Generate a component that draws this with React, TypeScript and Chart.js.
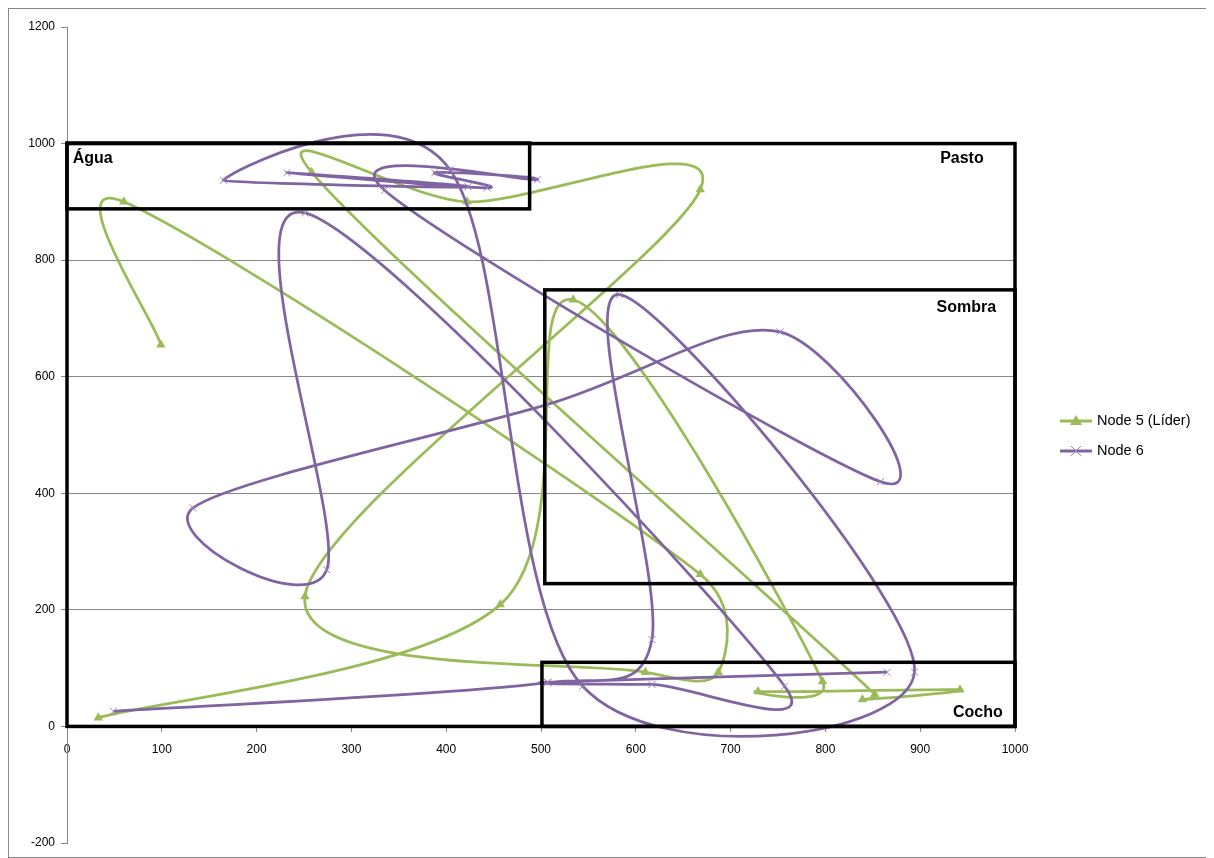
import React, { useEffect, useRef } from 'react';
import { Chart, registerables } from 'chart.js';

Chart.register(...registerables);

// ---- Data ----
const node5X = [99, 60, 668, 687, 610, 251, 668, 422, 258, 852, 839, 942, 729, 797, 534, 457, 33];
const node5Y = [655, 900, 261, 93, 93, 223, 921, 900, 951, 55, 46, 63, 60, 77, 732, 209, 15];

const node6X = [49, 507, 617, 583, 894, 544, 404, 165, 423, 232, 443, 388, 496, 335, 858, 752, 506, 133, 274, 251, 757, 617, 507, 865];
const node6Y = [26, 75, 149, 741, 93, 69, 955, 937, 926, 950, 924, 950, 938, 920, 420, 677, 552, 375, 269, 881, 69, 72, 76, 93];

const seriesNames = ['Node 5 (Líder)', 'Node 6'];
const seriesColors = ['#9BBB59', '#8064A2'];

const xMin = 0;
const xMax = 1000;
const xStep = 100;
const yMin = -200;
const yMax = 1200;
const yStep = 200;

// zones (rectangles drawn on the plot)
const zoneNames = ['Água', 'Pasto', 'Sombra', 'Cocho'];
const zoneX0 = [0, 0, 504, 501];
const zoneX1 = [488, 1000, 1000, 1000];
const zoneY0 = [888, 0, 245, 0];
const zoneY1 = [1001, 1000, 749, 110];
const zoneLabelX = [6, 967, 980, 987];
const zoneLabelY = [975, 975, 718, 24];
const zoneLabelAlign = ['left', 'right', 'right', 'right'];

// Excel-like smoothing: Catmull-Rom control points (1/6 of neighbour difference),
// each arm capped at half of its own segment length
const excelSmooth = {
  id: 'excelSmooth',
  beforeDatasetDraw(chart: any, args: any) {
    const line = args.meta.dataset;
    if (!line) return;
    line.updateControlPoints(chart.chartArea, args.meta.indexAxis);
    const pts = line.points || [];
    const n = pts.length;
    for (let i = 0; i < n; i++) {
      const p = pts[i];
      const prev = pts[Math.max(0, i - 1)];
      const next = pts[Math.min(n - 1, i + 1)];
      const dx = next.x - prev.x;
      const dy = next.y - prev.y;
      const d = Math.hypot(dx, dy);
      if (d === 0) {
        p.cp1x = p.x; p.cp1y = p.y; p.cp2x = p.x; p.cp2y = p.y;
        continue;
      }
      const ux = dx / d;
      const uy = dy / d;
      const dIn = Math.hypot(p.x - prev.x, p.y - prev.y);
      const dOut = Math.hypot(next.x - p.x, next.y - p.y);
      const armIn = Math.min(d / 6, dIn / 2);
      const armOut = Math.min(d / 6, dOut / 2);
      p.cp1x = p.x - ux * armIn;
      p.cp1y = p.y - uy * armIn;
      p.cp2x = p.x + ux * armOut;
      p.cp2y = p.y + uy * armOut;
    }
    line._path = undefined;
  },
};

const zonesPlugin = {
  id: 'zones',
  afterDatasetsDraw(chart: any) {
    const { ctx, scales } = chart;
    const xs = scales.x;
    const ys = scales.y;
    ctx.save();
    ctx.strokeStyle = '#000000';
    ctx.lineWidth = 3.5;
    for (let i = 0; i < zoneNames.length; i++) {
      const l = xs.getPixelForValue(zoneX0[i]);
      const r = xs.getPixelForValue(zoneX1[i]);
      const t = ys.getPixelForValue(zoneY1[i]);
      const b = ys.getPixelForValue(zoneY0[i]);
      ctx.strokeRect(l, t, r - l, b - t);
    }
    ctx.fillStyle = '#000000';
    ctx.font = 'bold 16px "Liberation Sans", Arial, sans-serif';
    ctx.textBaseline = 'middle';
    for (let i = 0; i < zoneNames.length; i++) {
      ctx.textAlign = zoneLabelAlign[i] as CanvasTextAlign;
      ctx.fillText(zoneNames[i], xs.getPixelForValue(zoneLabelX[i]), ys.getPixelForValue(zoneLabelY[i]));
    }
    ctx.restore();
  },
};

const legendPlugin = {
  id: 'customLegend',
  afterDraw(chart: any) {
    const ctx = chart.ctx;
    const x0 = chart.chartArea.right + 45;
    const yTop = 412;
    const gap = 30;
    ctx.save();
    ctx.font = '14.5px "Liberation Sans", Arial, sans-serif';
    ctx.textBaseline = 'middle';
    ctx.textAlign = 'left';
    chart.data.datasets.forEach((ds: any, i: number) => {
      const y = yTop + i * gap;
      ctx.strokeStyle = ds.borderColor;
      ctx.lineWidth = 3;
      ctx.beginPath();
      ctx.moveTo(x0, y);
      ctx.lineTo(x0 + 32, y);
      ctx.stroke();
      const cx = x0 + 16;
      if (i === 0) {
        ctx.fillStyle = ds.borderColor;
        ctx.beginPath();
        ctx.moveTo(cx, y - 6);
        ctx.lineTo(cx + 6, y + 4);
        ctx.lineTo(cx - 6, y + 4);
        ctx.closePath();
        ctx.fill();
      } else {
        ctx.strokeStyle = ds.pointBorderColor;
        ctx.lineWidth = 1;
        ctx.beginPath();
        ctx.moveTo(cx - 5, y - 5);
        ctx.lineTo(cx + 5, y + 5);
        ctx.moveTo(cx + 5, y - 5);
        ctx.lineTo(cx - 5, y + 5);
        ctx.stroke();
      }
      ctx.fillStyle = '#000000';
      ctx.fillText(ds.label, x0 + 37, y);
    });
    ctx.restore();
  },
};

function toPoints(xs: number[], ys: number[]) {
  return xs.map((x, i) => ({ x, y: ys[i] }));
}

export default function App() {
  const canvasRef = useRef<HTMLCanvasElement | null>(null);

  useEffect(() => {
    if (!canvasRef.current) return;
    const gridOn = (v: number) => v > 0 && v < yMax;
    const chart = new Chart(canvasRef.current, {
      type: 'scatter',
      data: {
        datasets: [
          {
            label: seriesNames[0],
            data: toPoints(node5X, node5Y),
            showLine: true,
            borderColor: seriesColors[0],
            backgroundColor: seriesColors[0],
            borderWidth: 2.75,
            tension: 0.4,
            pointStyle: 'triangle',
            pointRadius: 5.5,
            pointBorderWidth: 0,
            pointBackgroundColor: seriesColors[0],
            pointBorderColor: seriesColors[0],
            order: 2,
          },
          {
            label: seriesNames[1],
            data: toPoints(node6X, node6Y),
            showLine: true,
            borderColor: seriesColors[1],
            backgroundColor: seriesColors[1],
            borderWidth: 2.75,
            tension: 0.4,
            pointStyle: 'crossRot',
            pointRadius: 5,
            pointBorderWidth: 1,
            pointBorderColor: '#9A84BC',
            order: 1,
          },
        ],
      },
      options: {
        animation: false,
        responsive: true,
        maintainAspectRatio: false,
        layout: { padding: { left: 0, right: 198, top: 18, bottom: 14 } },
        elements: { line: { capBezierPoints: false } },
        plugins: {
          legend: { display: false },
          tooltip: { enabled: false },
        },
        scales: {
          x: {
            type: 'linear',
            min: xMin,
            max: xMax,
            position: { y: 0 },
            ticks: {
              stepSize: xStep,
              color: '#000000',
              font: { size: 12, family: '"Liberation Sans", Arial, sans-serif' },
              padding: 11,
              callback: (v: any) => String(v),
            },
            grid: { drawOnChartArea: false, drawTicks: true, tickLength: 5, color: '#868686' },
            border: { color: '#868686' },
          },
          y: {
            type: 'linear',
            min: yMin,
            max: yMax,
            afterFit: (scale: any) => {
              scale.width = 58;
            },
            ticks: {
              stepSize: yStep,
              color: '#000000',
              font: { size: 12, family: '"Liberation Sans", Arial, sans-serif' },
              padding: 6,
              callback: (v: any) => String(v),
            },
            grid: {
              color: (c: any) => (c.tick && gridOn(c.tick.value) ? '#868686' : 'rgba(0,0,0,0)'),
              tickColor: '#868686',
              tickLength: 6,
              lineWidth: 1,
            },
            border: { color: '#868686' },
          },
        },
      },
      plugins: [excelSmooth, zonesPlugin, legendPlugin],
    } as any);
    return () => chart.destroy();
  }, []);

  return (
    <div
      style={{
        width: 1206,
        height: 850,
        border: '1px solid #878787',
        boxSizing: 'border-box',
        background: '#ffffff',
      }}
    >
      <div style={{ position: 'relative', width: 1204, height: 848 }}>
        <canvas ref={canvasRef} />
      </div>
    </div>
  );
}
